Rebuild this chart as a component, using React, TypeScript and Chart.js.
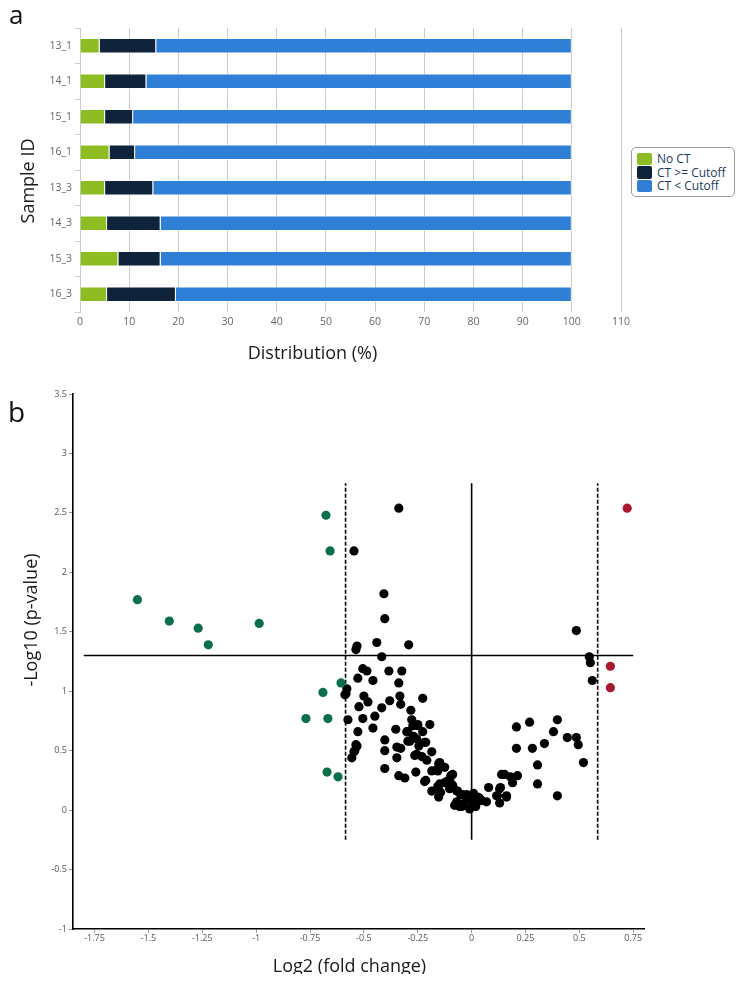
import React, { useEffect, useRef } from 'react';
import { Chart, registerables } from 'chart.js';

Chart.register(...registerables);

// ---------- Panel a: distribution per sample ----------
const sampleIds = ['13_1', '14_1', '15_1', '16_1', '13_3', '14_3', '15_3', '16_3'];
const noCt = [4.0, 5.1, 5.1, 6.0, 5.1, 5.5, 7.8, 5.5];
const ctAboveCutoff = [11.5, 8.4, 5.7, 5.2, 9.8, 10.9, 8.6, 14.0];
const ctBelowCutoff = [84.5, 86.5, 89.2, 88.8, 85.1, 83.6, 83.6, 80.5];
const seriesNames = ['No CT', 'CT >= Cutoff', 'CT < Cutoff'];
const seriesColors = ['#8dbd22', '#0f233a', '#2f7fd7'];

// ---------- Panel b: volcano plot ----------
const downPoints: [number, number][] = [
  [-0.676, 2.48], [-0.657, 2.18], [-1.551, 1.77], [-1.403, 1.59], [-1.269, 1.53],
  [-1.222, 1.39], [-0.986, 1.57], [-0.606, 1.07], [-0.69, 0.99], [-0.769, 0.77],
  [-0.667, 0.77], [-0.671, 0.32], [-0.62, 0.28],
];
const upPoints: [number, number][] = [
  [0.722, 2.54], [0.644, 1.21], [0.644, 1.03],
];
const nsPoints: [number, number][] = [
  [-0.338, 2.54], [-0.546, 2.18], [-0.407, 1.82], [-0.403, 1.61], [-0.44, 1.41],
  [-0.292, 1.39], [-0.532, 1.38], [-0.537, 1.35], [0.486, 1.51], [0.546, 1.29],
  [0.551, 1.24], [0.56, 1.09], [-0.417, 1.29], [-0.505, 1.19], [-0.486, 1.17],
  [-0.384, 1.17], [-0.324, 1.17], [-0.528, 1.11], [-0.458, 1.09], [-0.338, 1.07],
  [-0.579, 1.02], [-0.588, 0.97], [-0.583, 0.98], [-0.5, 0.96], [-0.333, 0.96],
  [-0.38, 0.92], [-0.481, 0.91], [-0.329, 0.89], [-0.227, 0.94], [-0.523, 0.87],
  [-0.417, 0.86], [-0.282, 0.84], [-0.449, 0.79], [-0.505, 0.77], [-0.574, 0.76],
  [-0.278, 0.76], [-0.273, 0.71], [-0.25, 0.71], [-0.25, 0.72], [-0.194, 0.72],
  [-0.458, 0.69], [-0.528, 0.66], [-0.352, 0.68], [-0.296, 0.66], [-0.301, 0.66],
  [-0.227, 0.66], [-0.269, 0.62], [-0.403, 0.59], [-0.296, 0.58], [-0.287, 0.58],
  [-0.255, 0.6], [-0.213, 0.57], [-0.218, 0.57], [-0.347, 0.53], [-0.329, 0.52],
  [-0.245, 0.54], [-0.532, 0.54], [-0.537, 0.55], [-0.542, 0.5], [-0.546, 0.49],
  [-0.403, 0.5], [-0.185, 0.49], [-0.264, 0.46], [-0.255, 0.47], [-0.556, 0.44],
  [-0.347, 0.44], [-0.231, 0.45], [-0.208, 0.42], [-0.153, 0.39], [-0.148, 0.4],
  [-0.125, 0.36], [-0.403, 0.35], [-0.185, 0.33], [-0.157, 0.33], [-0.162, 0.34],
  [-0.259, 0.32], [-0.338, 0.29], [-0.31, 0.27], [-0.213, 0.25], [-0.218, 0.24],
  [-0.097, 0.29], [-0.088, 0.3], [-0.106, 0.24], [-0.102, 0.26], [-0.125, 0.23],
  [-0.116, 0.24], [-0.148, 0.22], [-0.088, 0.21], [-0.088, 0.19], [-0.157, 0.2],
  [-0.185, 0.16], [-0.144, 0.15], [-0.102, 0.18], [-0.069, 0.16], [-0.065, 0.16],
  [-0.153, 0.11], [-0.051, 0.13], [-0.042, 0.13], [-0.023, 0.13], [-0.019, 0.12],
  [-0.023, 0.09], [0.009, 0.14], [0.037, 0.1], [0.028, 0.11], [0.079, 0.19],
  [0.134, 0.19], [0.069, 0.07], [0.046, 0.08], [0.116, 0.12], [0.162, 0.11],
  [0.13, 0.06], [-0.069, 0.07], [-0.042, 0.05], [-0.079, 0.04], [-0.056, 0.03],
  [-0.046, 0.03], [-0.009, 0.01], [0.005, 0.09], [0.019, 0.03], [0.0, 0.04],
  [0.023, 0.07], [0.153, 0.3], [0.19, 0.23], [0.213, 0.29], [0.139, 0.3],
  [0.18, 0.28], [0.208, 0.7], [0.269, 0.74], [0.398, 0.76], [0.38, 0.66],
  [0.444, 0.61], [0.486, 0.61], [0.495, 0.55], [0.338, 0.56], [0.282, 0.52],
  [0.208, 0.52], [0.519, 0.4], [0.306, 0.38], [0.306, 0.22], [0.398, 0.12],
  [0.13, 0.18], [0.12, 0.12], [0.162, 0.12],
];
const pThreshold = 1.301; // -log10(0.05)
const fcThreshold = 0.585; // log2(1.5)
const refLineYRange = [-0.25, 2.75];
const pLineXRange = [-1.8, 0.75];
const xTickStep = 0.25;
const yTickStep = 0.5;

const FONT = 'Open Sans';

const fmt = (v: number | string) => String(Math.round(Number(v) * 100) / 100);

export default function App() {
  const refA = useRef<HTMLCanvasElement>(null);
  const refB = useRef<HTMLCanvasElement>(null);

  useEffect(() => {
    const barValues = [noCt, ctAboveCutoff, ctBelowCutoff];
    const chartA = new Chart(refA.current!, {
      type: 'bar',
      data: {
        labels: sampleIds,
        datasets: seriesNames.map((name, i) => ({
          label: name,
          data: barValues[i],
          backgroundColor: seriesColors[i],
          borderColor: 'rgba(255,255,255,0.55)',
          borderWidth: 1,
          barPercentage: 0.44,
          categoryPercentage: 1,
        })),
      },
      options: {
        indexAxis: 'y',
        responsive: false,
        animation: false,
        layout: { padding: { left: 0, right: 114, top: 20, bottom: 0 } },
        plugins: { legend: { display: false }, tooltip: { enabled: false } },
        scales: {
          x: {
            stacked: true,
            min: 0,
            max: 110,
            ticks: { stepSize: 10, color: '#666', font: { family: FONT, size: 10.5 }, padding: 4 },
            grid: { color: '#cccccc', drawTicks: false },
            border: { display: false },
            afterFit: (s: any) => { s.height = 56; },
          },
          y: {
            stacked: true,
            ticks: { color: '#666', font: { family: FONT, size: 10.5 }, padding: 3 },
            grid: { offset: true, drawOnChartArea: false, tickLength: 5, color: '#cccccc' },
            border: { color: '#cccccc' },
            afterFit: (s: any) => { s.width = 72; },
          },
        },
      },
    } as any);

    const toXY = (arr: [number, number][]) => arr.map(([x, y]) => ({ x, y }));
    const refLine = (pts: { x: number; y: number }[], dash: number[]) => ({
      type: 'line',
      data: pts,
      borderColor: '#000',
      borderWidth: 1.6,
      borderDash: dash,
      pointRadius: 0,
      showLine: true,
      fill: false,
      order: 10,
    });
    const chartB = new Chart(refB.current!, {
      type: 'scatter',
      data: {
        datasets: [
          { label: 'Down', data: toXY(downPoints), backgroundColor: '#0b6f49', pointRadius: 4.6, borderWidth: 0, order: 1 },
          { label: 'Up', data: toXY(upPoints), backgroundColor: '#a9182b', pointRadius: 4.6, borderWidth: 0, order: 1 },
          { label: 'NS', data: toXY(nsPoints), backgroundColor: '#000000', pointRadius: 4.6, borderWidth: 0, order: 1 },
          refLine([{ x: pLineXRange[0], y: pThreshold }, { x: pLineXRange[1], y: pThreshold }], []),
          refLine([{ x: 0, y: refLineYRange[0] }, { x: 0, y: refLineYRange[1] }], []),
          refLine([{ x: -fcThreshold, y: refLineYRange[0] }, { x: -fcThreshold, y: refLineYRange[1] }], [4, 2]),
          refLine([{ x: fcThreshold, y: refLineYRange[0] }, { x: fcThreshold, y: refLineYRange[1] }], [4, 2]),
        ],
      },
      options: {
        responsive: false,
        animation: false,
        layout: { padding: { left: 0, right: 91, top: 26, bottom: 0 } },
        plugins: { legend: { display: false }, tooltip: { enabled: false } },
        scales: {
          x: {
            type: 'linear',
            min: -1.85,
            max: 0.8,
            ticks: { stepSize: xTickStep, includeBounds: false, color: '#555', font: { family: FONT, size: 9 }, padding: 0, callback: fmt },
            grid: { display: true, drawOnChartArea: false, tickLength: 4, color: '#999' },
            border: { color: '#000', width: 1.6 },
            afterFit: (s: any) => { s.height = 53; },
          },
          y: {
            type: 'linear',
            min: -1,
            max: 3.5,
            ticks: { stepSize: yTickStep, includeBounds: false, color: '#555', font: { family: FONT, size: 9 }, padding: 2, callback: fmt },
            grid: { display: true, drawOnChartArea: false, tickLength: 4, color: '#999' },
            border: { color: '#000', width: 1.6 },
            afterFit: (s: any) => { s.width = 65; },
          },
        },
      },
    } as any);

    return () => {
      chartA.destroy();
      chartB.destroy();
    };
  }, []);

  const titleStyle = (x: number, y: number, rotate = false): React.CSSProperties => ({
    position: 'absolute',
    left: x,
    top: y,
    transform: `translate(-50%, -50%)${rotate ? ' rotate(-90deg)' : ''}`,
    fontFamily: FONT,
    fontSize: 18,
    lineHeight: '22px',
    color: '#1a1a1a',
    whiteSpace: 'nowrap',
  });

  return (
    <div style={{ position: 'relative', width: 727, height: 966, fontFamily: FONT }}>
      <canvas ref={refA} width={727} height={360} style={{ position: 'absolute', left: 0, top: 0, display: 'block' }} />
      <canvas ref={refB} width={727} height={614} style={{ position: 'absolute', left: 0, top: 360, display: 'block' }} />

      <div style={{ position: 'absolute', left: 1, top: -7, fontFamily: FONT, fontSize: 26, lineHeight: '26px', color: '#111' }}>a</div>
      <div style={{ position: 'absolute', left: 0, top: 389, fontFamily: FONT, fontSize: 28, lineHeight: '28px', color: '#111' }}>b</div>

      <div style={titleStyle(304.5, 344)}>Distribution (%)</div>
      <div style={titleStyle(19, 173, true)}>Sample ID</div>
      <div style={titleStyle(22, 612, true)}>-Log10 (p-value)</div>
      <div style={titleStyle(341.5, 957)}>Log2 (fold change)</div>

      <div
        style={{
          position: 'absolute',
          left: 623,
          top: 139,
          width: 104,
          height: 50,
          boxSizing: 'border-box',
          border: '1px solid #9a9a9a',
          borderRadius: 5,
          paddingTop: 4,
          paddingLeft: 5,
          background: '#fff',
        }}
      >
        {seriesNames.map((name, i) => (
          <div key={name} style={{ display: 'flex', alignItems: 'center', height: 13.5 }}>
            <span style={{ display: 'inline-block', width: 15, height: 12.5, borderRadius: 2, background: seriesColors[i], marginRight: 5 }} />
            <span style={{ fontFamily: FONT, fontSize: 12, lineHeight: '13px', color: '#1b3a5c', whiteSpace: 'nowrap' }}>{name}</span>
          </div>
        ))}
      </div>
    </div>
  );
}
